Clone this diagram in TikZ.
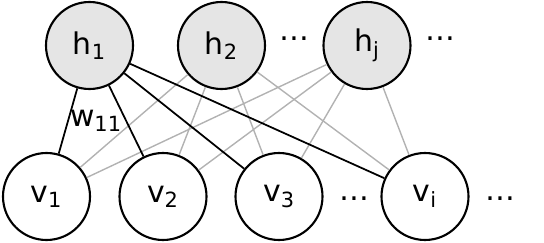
\documentclass[tikz,border=0pt]{standalone}
\usepackage{fontspec}
\setmainfont{DejaVu Sans}

\begin{document}
\begin{tikzpicture}[line width=1pt,
  every node/.style={font=\fontsize{17}{20}\selectfont},
  hid/.style={draw,circle,fill=gray!20,minimum size=1.74cm,inner sep=0pt,line width=1.2pt},
  vis/.style={draw,circle,fill=white,minimum size=1.74cm,inner sep=0pt,line width=1.2pt},
  wgt/.style={draw=gray!60,line width=0.8pt}]
\useasboundingbox (0,0) rectangle (10.88,4.84);
% ================= hidden layer =================
\node[hid] (h1) at (1.79,3.93) {h\textsubscript{1}};
\node[hid] (h2) at (4.43,3.93) {h\textsubscript{2}};
\node[hid] (hj) at (7.34,3.93) {h\textsubscript{j}};
\node (hdots1) at (5.88,4.07) {\dots};
\node (hdots2) at (8.80,4.07) {\dots};
% ================= visible layer =================
\node[vis] (v1) at (0.93,0.91) {v\textsubscript{1}};
\node[vis] (v2) at (3.26,0.91) {v\textsubscript{2}};
\node[vis] (v3) at (5.58,0.91) {v\textsubscript{3}};
\node[vis] (vi) at (8.50,0.91) {v\textsubscript{i}};
\node (vdots1) at (7.08,0.87) {\dots};
\node (vdots2) at (10.00,0.87) {\dots};
% ================= weights =================
\draw[wgt] (h2) -- (v1);
\draw[wgt] (h2) -- (v2);
\draw[wgt] (h2) -- (v3);
\draw[wgt] (h2) -- (vi);
\draw[wgt] (hj) -- (v1);
\draw[wgt] (hj) -- (v2);
\draw[wgt] (hj) -- (v3);
\draw[wgt] (hj) -- (vi);
\draw (h1) -- (v1);
\draw (h1) -- (v2);
\draw (h1) -- (v3);
\draw (h1) -- (vi);
\node (w11) at (1.92,2.42) {w\textsubscript{11}};
\end{tikzpicture}
\end{document}
